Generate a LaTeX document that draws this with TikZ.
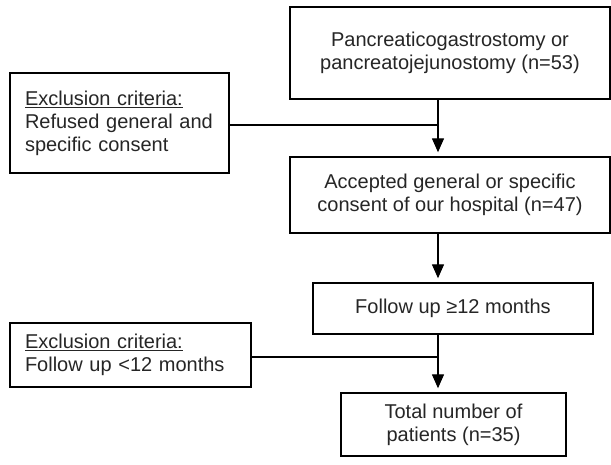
\documentclass[tikz,border=0pt]{standalone}
\usepackage{fontspec}
\setmainfont{Liberation Sans}
\usetikzlibrary{arrows.meta}
\tikzset{
	box/.style={draw=black, line width=1.4pt, fill=white, align=center, inner sep=0pt, text=black!85, font=\fontsize{20}{23}\selectfont},
	exclbox/.style={box, align=left, inner xsep=15pt},
	flow/.style={draw=black, line width=1.3pt},
	flowarrow/.style={flow, -{Triangle[width=12pt,length=14pt]}, shorten >=4pt}
}

\begin{document}
\begin{tikzpicture}[x=1pt,y=-1pt]
			%%%%% START %%%%%
			\useasboundingbox (0,0) rectangle (611,465);
			
			\node[box, minimum width=320pt, minimum height=92pt] (pg) at (450,53) {Pancreaticogastrostomy or\\pancreatojejunostomy (n=53)};
			\node[box, minimum width=320pt, minimum height=76pt] (acc) at (450,195) {Accepted general or specific\\consent of our hospital (n=47)};
			\node[box, minimum width=280pt, minimum height=51pt] (fu) at (453,308.5) {Follow up ≥12 months};
			\node[box, minimum width=225pt, minimum height=63pt] (tot) at (453.5,424.5) {Total number of\\patients (n=35)};
			
			\node[exclbox, text width=189pt, minimum height=100pt] (ex1) at (119.5,123) {\underline{Exclusion criteria:}\\Refused general and\\specific consent};
			\node[exclbox, text width=211pt, minimum height=64pt] (ex2) at (130.5,355) {\underline{Exclusion criteria:}\\Follow up <12 months};
			
			\coordinate (j1) at (438,125);
			\coordinate (j2) at (438,357);
			
			\draw[flowarrow] (pg.south -| j1) -- (acc.north -| j1);
			\draw[flow] (ex1.east |- j1) -- (j1);
			\draw[flowarrow] (acc.south -| j1) -- (fu.north -| j1);
			\draw[flowarrow] (fu.south -| j2) -- (tot.north -| j2);
			\draw[flow] (ex2.east |- j2) -- (j2);
			%%%%% END %%%%%
\end{tikzpicture}
\end{document}
